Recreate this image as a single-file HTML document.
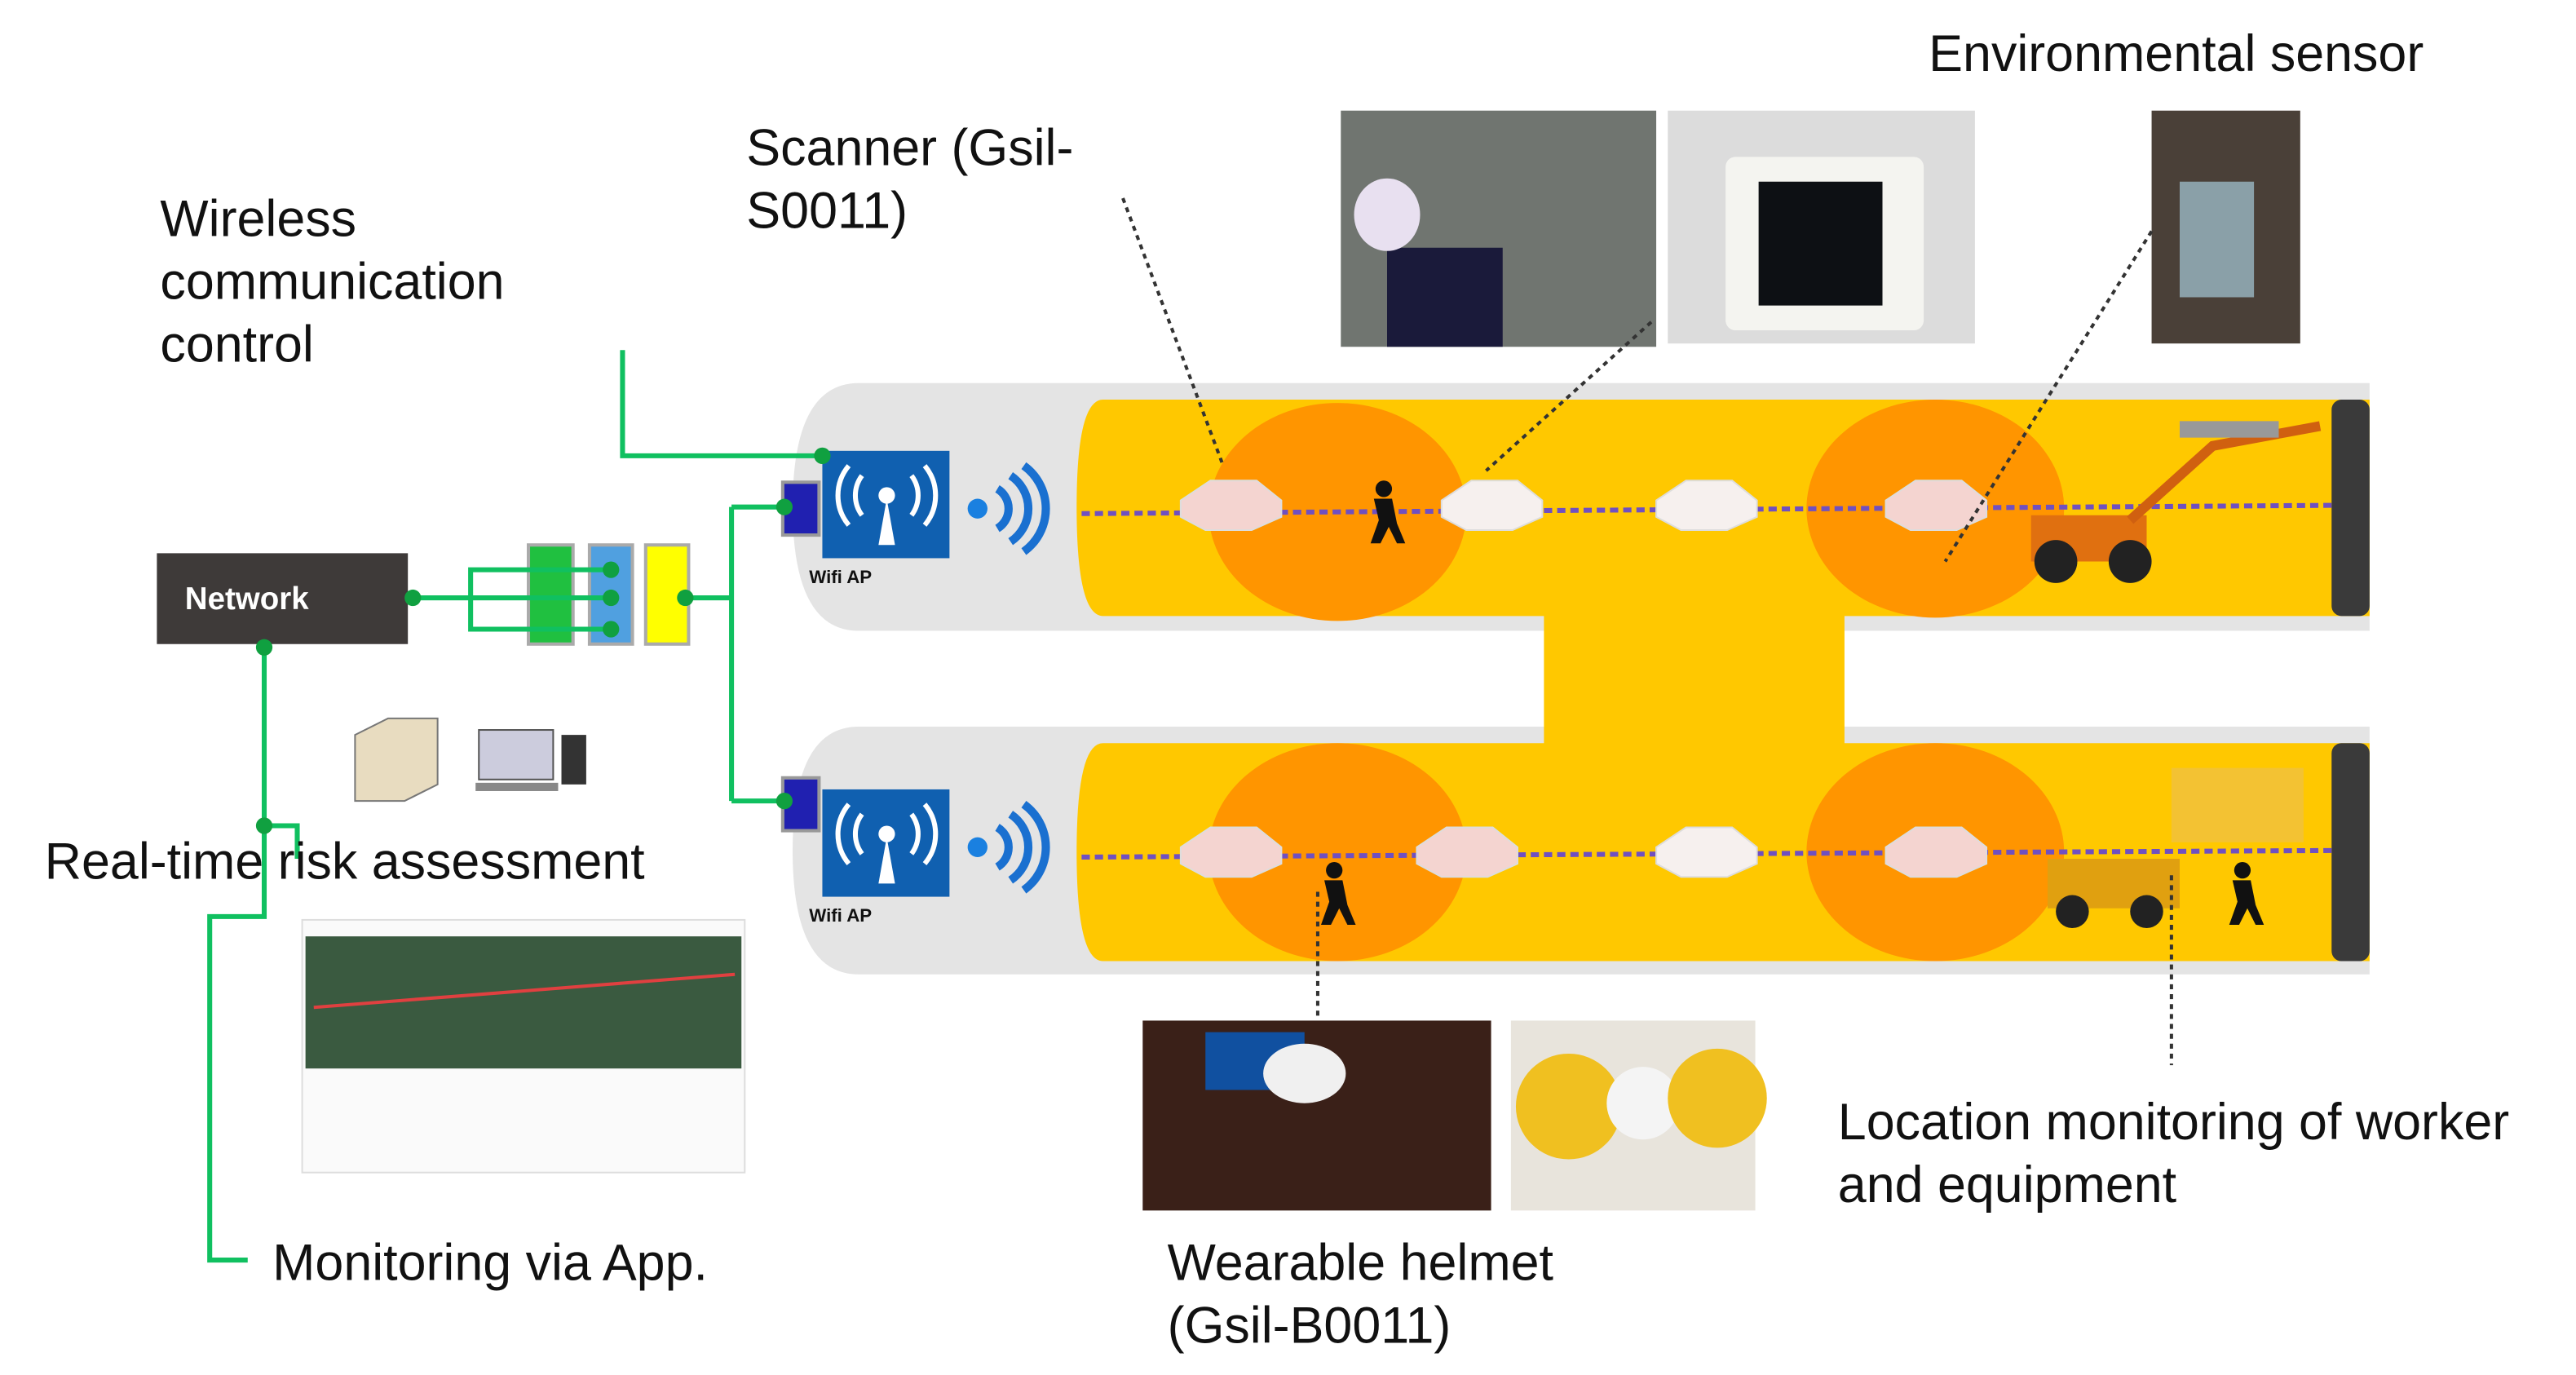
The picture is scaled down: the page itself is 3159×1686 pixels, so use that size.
<!DOCTYPE html>
<html><head><meta charset="utf-8"><style>
html,body{margin:0;padding:0;background:#fff;}
svg{display:block;}
text{font-family:"Liberation Sans","DejaVu Sans",sans-serif;fill:#111;}
</style></head><body>
<svg width="3159" height="1686" viewBox="0 0 1560 832.6" xmlns="http://www.w3.org/2000/svg">
<rect width="1560" height="833" fill="#fff"/>
<path d="M520 232 H1435 V382 H520 Q480 382 480 307 Q480 232 520 232Z" fill="#e4e4e4"/>
<path d="M520 440 H1435 V590 H520 Q480 590 480 515 Q480 440 520 440Z" fill="#e4e4e4"/>
<path d="M668 242 H1435 V373 H668 Q652 373 652 307 Q652 242 668 242Z" fill="#ffc800"/>
<path d="M668 450 H1435 V582 H668 Q652 582 652 516 Q652 450 668 450Z" fill="#ffc800"/>
<rect x="935" y="370" width="182" height="84" fill="#ffc800"/>
<rect x="1412" y="242" width="23" height="131" fill="#3a3a3a" rx="6"/>
<rect x="1412" y="450" width="23" height="132" fill="#3a3a3a" rx="6"/>
<ellipse cx="810" cy="310" rx="78" ry="66" fill="#ff9500"/>
<ellipse cx="1172" cy="308" rx="78" ry="66" fill="#ff9500"/>
<ellipse cx="810" cy="516" rx="78" ry="66" fill="#ff9500"/>
<ellipse cx="1172" cy="516" rx="78" ry="66" fill="#ff9500"/>
<line x1="655" y1="311" x2="1412" y2="306" stroke="#7050c0" stroke-width="3" stroke-dasharray="5 3"/>
<line x1="655" y1="519" x2="1412" y2="515" stroke="#7050c0" stroke-width="3" stroke-dasharray="5 3"/>
<g fill="#f6f0ee" stroke="#ddd" stroke-width="1">
<path d="M715 303 l18 -12 h28 l15 12 v10 l-18 8 h-28 l-15 -8z" fill="#f4d4d0"/>
<path d="M873 303 l18 -12 h28 l15 12 v10 l-18 8 h-28 l-15 -8z"/>
<path d="M1003 303 l18 -12 h28 l15 12 v10 l-18 8 h-28 l-15 -8z"/>
<path d="M1142 303 l18 -12 h28 l15 12 v10 l-18 8 h-28 l-15 -8z" fill="#f4d4d0"/>
<path d="M715 513 l18 -12 h28 l15 12 v10 l-18 8 h-28 l-15 -8z" fill="#f4d4d0"/>
<path d="M858 513 l18 -12 h28 l15 12 v10 l-18 8 h-28 l-15 -8z" fill="#f4d4d0"/>
<path d="M1003 513 l18 -12 h28 l15 12 v10 l-18 8 h-28 l-15 -8z"/>
<path d="M1142 513 l18 -12 h28 l15 12 v10 l-18 8 h-28 l-15 -8z" fill="#f4d4d0"/>
</g>
<g fill="#111">
<circle cx="838" cy="296" r="5"/><path d="M832 302 h11 l3 15 l5 12 h-5 l-5 -10 l-5 10 h-6 l5 -14z"/>
<circle cx="808" cy="527" r="5"/><path d="M802 533 h11 l3 15 l5 12 h-5 l-5 -10 l-5 10 h-6 l5 -14z"/>
<circle cx="1358" cy="527" r="5"/><path d="M1352 533 h11 l3 15 l5 12 h-5 l-5 -10 l-5 10 h-6 l5 -14z"/>
</g>
<g>
<rect x="1230" y="312" width="70" height="28" fill="#e07010"/>
<circle cx="1245" cy="340" r="13" fill="#222"/><circle cx="1290" cy="340" r="13" fill="#222"/>
<path d="M1290 315 L1340 270 L1405 258" stroke="#d06010" stroke-width="6" fill="none"/>
<rect x="1320" y="255" width="60" height="10" fill="#999"/>
<rect x="1240" y="520" width="80" height="30" fill="#e0a010"/>
<rect x="1315" y="465" width="80" height="45" fill="#f0c040" opacity="0.8"/>
<circle cx="1255" cy="552" r="10" fill="#222"/><circle cx="1300" cy="552" r="10" fill="#222"/>
</g>
<g>
<rect x="474" y="292" width="22" height="32" fill="#2020b0" stroke="#999" stroke-width="2"/>
<rect x="498" y="273" width="77" height="65" fill="#1060b0"/>
<text x="490" y="353" font-size="11" font-weight="bold" fill="#222">Wifi  AP</text>
<circle cx="537" cy="300" r="5" fill="#fff"/><path d="M532 330 L537 302 L542 330Z" fill="#fff"/>
<path d="M522 288 a20 20 0 0 0 0 24 M552 288 a20 20 0 0 1 0 24 M514 282 a28 28 0 0 0 0 36 M560 282 a28 28 0 0 1 0 36" stroke="#fff" stroke-width="3" fill="none"/>
<circle cx="592" cy="308" r="6" fill="#1a80e0"/>
<path d="M604 296 a14 14 0 0 1 0 24 M612 288 a24 24 0 0 1 0 40 M620 282 a32 32 0 0 1 0 52" stroke="#1a70d0" stroke-width="5" fill="none"/>
</g>
<g transform="translate(0,205)">
<rect x="474" y="266" width="22" height="32" fill="#2020b0" stroke="#999" stroke-width="2"/>
<rect x="498" y="273" width="77" height="65" fill="#1060b0"/>
<text x="490" y="353" font-size="11" font-weight="bold" fill="#222">Wifi  AP</text>
<circle cx="537" cy="300" r="5" fill="#fff"/><path d="M532 330 L537 302 L542 330Z" fill="#fff"/>
<path d="M522 288 a20 20 0 0 0 0 24 M552 288 a20 20 0 0 1 0 24 M514 282 a28 28 0 0 0 0 36 M560 282 a28 28 0 0 1 0 36" stroke="#fff" stroke-width="3" fill="none"/>
<circle cx="592" cy="308" r="6" fill="#1a80e0"/>
<path d="M604 296 a14 14 0 0 1 0 24 M612 288 a24 24 0 0 1 0 40 M620 282 a32 32 0 0 1 0 52" stroke="#1a70d0" stroke-width="5" fill="none"/>
</g>
<rect x="95" y="335" width="152" height="55" fill="#3e3a39"/>
<text x="112" y="369" font-size="19" font-weight="bold" style="fill:#fff">Network</text>
<rect x="320" y="330" width="27" height="60" fill="#20c040" stroke="#aaa" stroke-width="2"/>
<rect x="357" y="330" width="26" height="60" fill="#50a0e0" stroke="#aaa" stroke-width="2"/>
<rect x="391" y="330" width="26" height="60" fill="#ffff00" stroke="#aaa" stroke-width="2"/>
<g stroke="#10c060" stroke-width="3" fill="none">
<path d="M250 362 H320 M285 362 V345 H370 M285 362 V381 H370 M320 362 H370"/>
<path d="M415 362 H443 M443 307 V485 M443 307 H475 M443 485 H475"/>
<path d="M377 212 V276 H498"/>
<path d="M160 390 V555 H127 V763 H150"/>
<path d="M160 500 H180 V520"/>
</g>
<g fill="#10a040">
<circle cx="250" cy="362" r="5"/><circle cx="415" cy="362" r="5"/><circle cx="370" cy="345" r="5"/><circle cx="370" cy="362" r="5"/><circle cx="370" cy="381" r="5"/>
<circle cx="475" cy="307" r="5"/><circle cx="475" cy="485" r="5"/><circle cx="498" cy="276" r="5"/>
<circle cx="160" cy="392" r="5"/><circle cx="160" cy="500" r="5"/>
</g>
<path d="M215 445 l20 -10 h30 v40 l-20 10 h-30z" fill="#e8dcc0" stroke="#777"/>
<rect x="290" y="442" width="45" height="30" fill="#ccd" stroke="#555"/>
<rect x="288" y="474" width="50" height="5" fill="#888"/>
<rect x="340" y="445" width="15" height="30" fill="#333"/>
<rect x="183" y="557" width="268" height="153" fill="#fafafa" stroke="#ddd"/>
<rect x="185" y="567" width="264" height="80" fill="#3a5a40"/>
<line x1="190" y1="610" x2="445" y2="590" stroke="#e04040" stroke-width="2"/>
<rect x="812" y="67" width="191" height="143" fill="#707570"/>
<rect x="840" y="150" width="70" height="60" fill="#1a1a3a"/>
<ellipse cx="840" cy="130" rx="20" ry="22" fill="#e8e0f0"/>
<rect x="1010" y="67" width="186" height="141" fill="#dcdcdc"/>
<rect x="1045" y="95" width="120" height="105" fill="#f4f4f0" rx="6"/>
<rect x="1065" y="110" width="75" height="75" fill="#0d1014"/>
<rect x="1303" y="67" width="90" height="141" fill="#4a4038"/>
<rect x="1320" y="110" width="45" height="70" fill="#8aa0a8"/>
<rect x="692" y="618" width="211" height="115" fill="#3a2018"/>
<rect x="730" y="625" width="60" height="35" fill="#1050a0"/>
<ellipse cx="790" cy="650" rx="25" ry="18" fill="#f0f0f0"/>
<rect x="915" y="618" width="148" height="115" fill="#e8e4dc"/>
<circle cx="950" cy="670" r="32" fill="#f0c020"/><circle cx="995" cy="668" r="22" fill="#f4f4f4"/><circle cx="1040" cy="665" r="30" fill="#f0c020"/>
<g stroke="#333" stroke-width="2" stroke-dasharray="3 3" fill="none">
<path d="M680 120 L740 280"/>
<path d="M1000 195 L900 285"/>
<path d="M1303 140 L1178 340"/>
<path d="M798 540 V615"/>
<path d="M1315 530 V645"/>
</g>
<g font-size="31">
<text x="97" y="143">Wireless</text>
<text x="97" y="181">communication</text>
<text x="97" y="219">control</text>
<text x="452" y="100">Scanner (Gsil-</text>
<text x="452" y="138">S0011)</text>
<text x="1168" y="43">Environmental sensor</text>
<text x="27" y="532">Real-time risk assessment</text>
<text x="165" y="775">Monitoring via App.</text>
<text x="707" y="775">Wearable helmet</text>
<text x="707" y="813">(Gsil-B0011)</text>
<text x="1113" y="690">Location monitoring of worker</text>
<text x="1113" y="728">and equipment</text>
</g>
</svg>
</body></html>
